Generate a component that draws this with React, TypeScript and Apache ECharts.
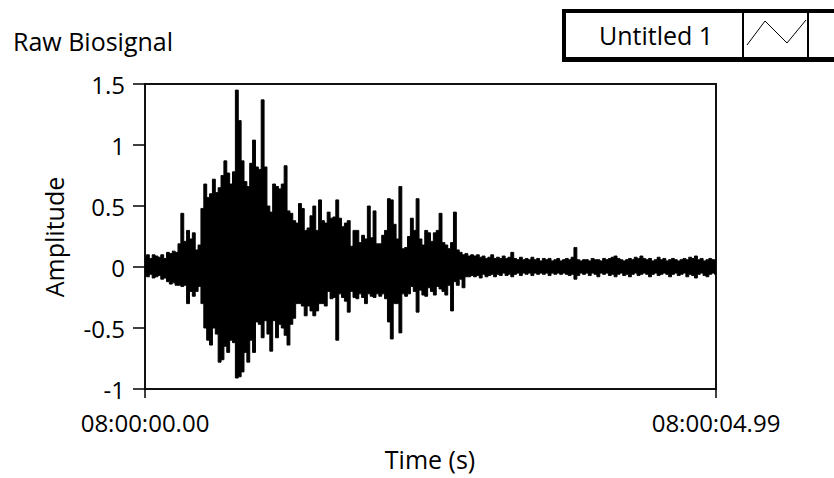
import React, { useEffect, useRef } from "react";
import * as echarts from "echarts";

// ---- data ----
const timeStart = 0;
const timeEnd = 4.99;
const sampleCount = 200;

// upper envelope of the raw biosignal (amplitude), one value per sample column
const upperEnvelope = [
  0.08, 0.1, 0.07, 0.1, 0.09, 0.08, 0.1, 0.07, 0.12, 0.11,
  0.13, 0.12, 0.19, 0.44, 0.21, 0.3, 0.23, 0.28, 0.14, 0.18,
  0.48, 0.68, 0.57, 0.6, 0.72, 0.61, 0.65, 0.75, 0.87, 0.77,
  0.68, 0.78, 1.45, 1.2, 0.87, 0.7, 0.66, 0.85, 1.04, 0.82,
  0.8, 1.37, 0.82, 0.5, 0.45, 0.68, 0.66, 0.64, 0.68, 0.83,
  0.46, 0.44, 0.38, 0.36, 0.52, 0.48, 0.3, 0.32, 0.42, 0.5,
  0.3, 0.55, 0.38, 0.36, 0.45, 0.4, 0.41, 0.55, 0.4, 0.33,
  0.36, 0.38, 0.17, 0.3, 0.3, 0.2, 0.26, 0.23, 0.5, 0.24,
  0.46, 0.19, 0.19, 0.26, 0.3, 0.56, 0.55, 0.35, 0.23, 0.66,
  0.15, 0.16, 0.25, 0.4, 0.3, 0.56, 0.23, 0.18, 0.3, 0.28,
  0.21, 0.28, 0.3, 0.44, 0.2, 0.18, 0.15, 0.2, 0.45, 0.14,
  0.12, 0.1, 0.11, 0.09, 0.1, 0.09, 0.1, 0.08, 0.09, 0.07,
  0.08, 0.1, 0.07, 0.08, 0.07, 0.09, 0.07, 0.08, 0.12, 0.07,
  0.06, 0.08, 0.06, 0.07, 0.06, 0.08, 0.06, 0.07, 0.05, 0.07,
  0.06, 0.07, 0.05, 0.06, 0.07, 0.05, 0.06, 0.07, 0.06, 0.08,
  0.16, 0.06, 0.05, 0.06, 0.06, 0.05, 0.07, 0.06, 0.06, 0.05,
  0.07, 0.06, 0.07, 0.08, 0.09, 0.07, 0.06, 0.05, 0.06, 0.07,
  0.06, 0.08, 0.07, 0.09, 0.07, 0.06, 0.07, 0.05, 0.06, 0.08,
  0.06, 0.07, 0.05, 0.06, 0.07, 0.06, 0.05, 0.06, 0.07, 0.06,
  0.08, 0.07, 0.09, 0.06, 0.07, 0.05, 0.06, 0.07, 0.06, 0.06,
];

// lower envelope of the raw biosignal (amplitude)
const lowerEnvelope = [
  -0.07, -0.08, -0.06, -0.09, -0.08, -0.07, -0.1, -0.09, -0.12, -0.14,
  -0.13, -0.15, -0.15, -0.16, -0.15, -0.3, -0.2, -0.24, -0.2, -0.16,
  -0.3, -0.5, -0.6, -0.64, -0.5, -0.55, -0.78, -0.76, -0.65, -0.7,
  -0.6, -0.62, -0.91, -0.9, -0.86, -0.7, -0.78, -0.6, -0.7, -0.45,
  -0.47, -0.58, -0.44, -0.55, -0.69, -0.44, -0.58, -0.47, -0.5, -0.56,
  -0.64, -0.47, -0.42, -0.3, -0.3, -0.32, -0.4, -0.32, -0.36, -0.4,
  -0.36, -0.3, -0.3, -0.32, -0.2, -0.26, -0.25, -0.6, -0.22, -0.25,
  -0.28, -0.37, -0.2, -0.25, -0.26, -0.22, -0.25, -0.3, -0.22, -0.24,
  -0.25, -0.22, -0.24, -0.22, -0.26, -0.45, -0.59, -0.3, -0.3, -0.54,
  -0.22, -0.24, -0.22, -0.16, -0.2, -0.37, -0.19, -0.23, -0.24, -0.17,
  -0.2, -0.23, -0.16, -0.18, -0.2, -0.23, -0.15, -0.36, -0.12, -0.15,
  -0.1, -0.17, -0.08, -0.08, -0.07, -0.08, -0.07, -0.09, -0.06, -0.08,
  -0.07, -0.06, -0.08, -0.06, -0.07, -0.05, -0.07, -0.06, -0.08, -0.06,
  -0.05, -0.07, -0.05, -0.06, -0.05, -0.07, -0.05, -0.06, -0.05, -0.06,
  -0.05, -0.07, -0.05, -0.06, -0.05, -0.06, -0.05, -0.06, -0.07, -0.06,
  -0.1, -0.07, -0.05, -0.06, -0.05, -0.07, -0.05, -0.06, -0.08, -0.05,
  -0.06, -0.05, -0.07, -0.06, -0.08, -0.06, -0.05, -0.07, -0.06, -0.08,
  -0.06, -0.05, -0.07, -0.06, -0.05, -0.06, -0.08, -0.06, -0.05, -0.07,
  -0.06, -0.05, -0.06, -0.08, -0.06, -0.05, -0.07, -0.06, -0.05, -0.08,
  -0.06, -0.07, -0.09, -0.06, -0.05, -0.07, -0.08, -0.06, -0.05, -0.06,
];

const xTickValues = [0, 4.99];
const xTickLabels = ["08:00:00.00", "08:00:04.99"];
const yMin = -1;
const yMax = 1.5;
const yStep = 0.5;

const chartTitle = "Raw Biosignal";
const xAxisTitle = "Time (s)";
const yAxisTitle = "Amplitude";
const legendLabel = "Untitled 1";

const FONT = "'Open Sans', 'Noto Sans', sans-serif";
const FS = 25;
const TICK_FS = 24;

export default function App() {
  const ref = useRef<HTMLDivElement>(null);

  useEffect(() => {
    if (!ref.current) return;
    const chart = echarts.init(ref.current, undefined, { renderer: "svg" });
    const dt = (timeEnd - timeStart) / (sampleCount - 1);
    const upperData = upperEnvelope.map((v, i) => [timeStart + i * dt, v]);
    const lowerData = lowerEnvelope.map((v, i) => [timeStart + i * dt, v]);

    const waveSeries = (name: string, data: number[][]) => ({
      type: "line",
      name,
      data,
      step: "middle",
      showSymbol: false,
      symbol: "none",
      lineStyle: { color: "#000", width: 1 },
      areaStyle: { color: "#000", opacity: 1 },
      silent: true,
      clip: true,
    });

    chart.setOption({
      animation: false,
      backgroundColor: "#fff",
      textStyle: { fontFamily: FONT },
      grid: {
        left: 145,
        right: 118,
        top: 84,
        bottom: 89,
        show: true,
        borderColor: "#111",
        borderWidth: 2,
        backgroundColor: "#fff",
        outerBoundsMode: "none",
      },
      xAxis: {
        type: "value",
        min: xTickValues[0],
        max: xTickValues[xTickValues.length - 1],
        interval: xTickValues[1] - xTickValues[0],
        splitLine: { show: false },
        axisLine: { show: true, onZero: false, lineStyle: { color: "#111", width: 2 } },
        axisTick: {
          show: true,
          length: 9,
          lineStyle: { color: "#000", width: 1.5 },
          customValues: xTickValues,
        },
        axisLabel: {
          color: "#000",
          fontSize: TICK_FS,
          lineHeight: TICK_FS,
          fontFamily: FONT,
          margin: 21,
          customValues: xTickValues,
          formatter: (v: number) => {
            const idx = xTickValues.findIndex((t) => Math.abs(t - v) < 1e-6);
            return idx >= 0 ? xTickLabels[idx] : "";
          },
        },
      },
      yAxis: {
        type: "value",
        min: yMin,
        max: yMax,
        interval: yStep,
        splitLine: { show: false },
        axisLine: { show: true, onZero: false, lineStyle: { color: "#111", width: 2 } },
        axisTick: { show: true, length: 12, lineStyle: { color: "#000", width: 1.5 } },
        axisLabel: {
          color: "#000",
          fontSize: TICK_FS,
          lineHeight: TICK_FS,
          fontFamily: FONT,
          margin: 20,
          formatter: (v: number) => String(Math.round(v * 10) / 10),
        },
      },
      series: [waveSeries("upper", upperData), waveSeries("lower", lowerData)],
      graphic: [
        {
          type: "text",
          x: 13,
          y: 41,
          style: {
            text: chartTitle,
            fill: "#000",
            font: `${FS}px ${FONT}`,
            lineHeight: FS,
            align: "left",
            verticalAlign: "middle",
          },
        },
        {
          type: "text",
          x: 430,
          y: 459,
          style: {
            text: xAxisTitle,
            fill: "#000",
            font: `${FS}px ${FONT}`,
            lineHeight: FS,
            align: "center",
            verticalAlign: "middle",
          },
        },
        {
          type: "text",
          x: 54,
          y: 237,
          rotation: Math.PI / 2,
          style: {
            text: yAxisTitle,
            fill: "#000",
            font: `${FS}px ${FONT}`,
            lineHeight: FS,
            align: "center",
            verticalAlign: "middle",
          },
        },
        {
          type: "group",
          children: [
            { type: "rect", shape: { x: 562, y: 9, width: 280, height: 53 }, style: { fill: "#000" } },
            { type: "rect", shape: { x: 566, y: 13, width: 176, height: 44 }, style: { fill: "#fff" } },
            { type: "rect", shape: { x: 744, y: 13, width: 63, height: 44 }, style: { fill: "#fff" } },
            { type: "rect", shape: { x: 809, y: 13, width: 40, height: 44 }, style: { fill: "#fff" } },
            {
              type: "text",
              x: 656,
              y: 35,
              style: {
                text: legendLabel,
                fill: "#000",
                font: `${FS}px ${FONT}`,
                lineHeight: FS,
                align: "center",
                verticalAlign: "middle",
              },
            },
            {
              type: "polyline",
              shape: { points: [[747, 45], [765, 21], [787, 43], [806, 20]] },
              style: { stroke: "#000", lineWidth: 1, fill: "none" },
            },
          ],
        },
      ],
    });
    return () => chart.dispose();
  }, []);

  return (
    <div
      ref={ref}
      style={{ position: "fixed", left: 0, top: 0, width: 834, height: 478, background: "#fff" }}
    />
  );
}
